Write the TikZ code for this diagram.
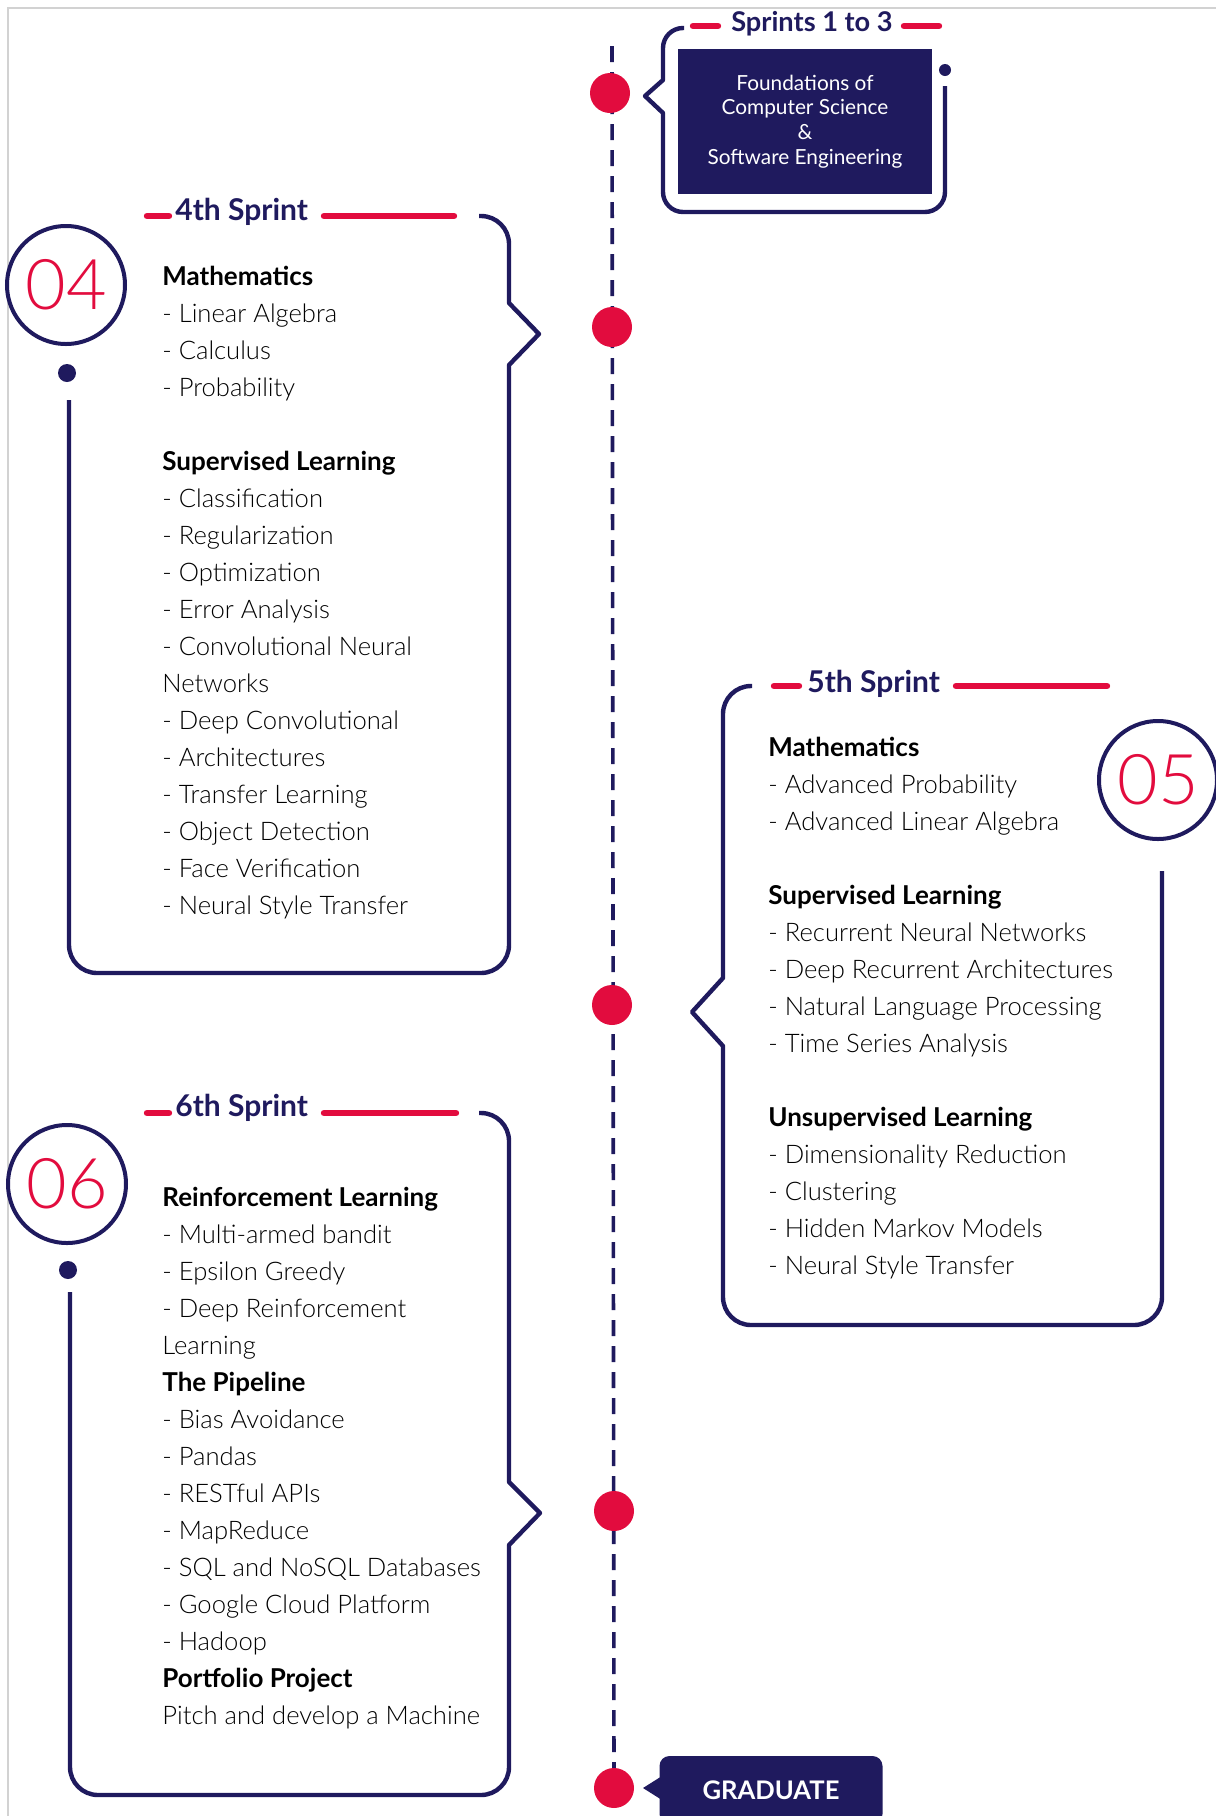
\documentclass[tikz,border=0pt]{standalone}
\usepackage{fontspec}
\setmainfont{Lato}[UprightFont={* Light},BoldFont={* Bold}]
\newfontfamily\regfont{Lato}
\usetikzlibrary{positioning}
\definecolor{navy}{RGB}{31,26,94}
\definecolor{crimson}{RGB}{226,12,62}
\newcommand\hd[1]{{\bfseries\fontsize{13}{18.5}\selectfont #1}}

\begin{document}
\begin{tikzpicture}[x=0.5pt,y=-0.5pt,
spine/.style={navy,line width=1.8pt,dash pattern=on 8pt off 5pt},
reddot/.style={circle,fill=crimson,minimum size=20pt,inner sep=0pt},
navydot/.style={circle,fill=navy,minimum size=9pt,inner sep=0pt},
bracket/.style={navy,line width=2.2pt,line join=round},
bar/.style={crimson,line width=3.2pt,line cap=round},
numring/.style={circle,draw=navy,line width=2pt,minimum size=59pt,
  inner sep=0pt,text=crimson,font=\fontsize{35}{35}\selectfont},
title/.style={text=navy,anchor=base west,inner sep=0pt,
  font=\bfseries\fontsize{15}{15}\selectfont},
listtxt/.style={anchor=north west,align=left,inner sep=0pt,text=black,
  font=\fontsize{12.8}{18.5}\selectfont},
headbox/.style={fill=navy,text=white,align=center,minimum width=127pt,
  minimum height=72.5pt,inner sep=0pt,font=\regfont\fontsize{10.4}{12.3}\selectfont},
gradbox/.style={fill=navy,text=white,rounded corners=5pt,minimum width=111.5pt,
  minimum height=34pt,inner sep=0pt,font=\bfseries\fontsize{12.8}{12.8}\selectfont}
]
\useasboundingbox (0,0) rectangle (1216,1816);
\clip (0,0) rectangle (1216,1816);
\draw[gray!35,line width=0.7pt] (8,1816) -- (8,8) -- (1216,8);

% timeline
\coordinate (top) at (612,46);
\coordinate (s1) at (610,93);
\coordinate (s2) at (612,327);
\coordinate (s3) at (612,1005);
\coordinate (s4) at (614,1511);
\coordinate (s5) at (614,1788);
\draw[spine] (top) -- (s5);
\foreach \s in {s1,s2,s3,s4,s5}
  \node[reddot] (\s dot) at (\s) {};

% sprints 1 to 3
\node[headbox] (found) at (805,121.5) {Foundations of\\Computer Science\\\&\\Software Engineering};
\draw[bracket] (684,28) [rounded corners=10pt] -- (663,28) [sharp corners] -- (663,80) -- (645,96)
  -- (663,113) [rounded corners=10pt] -- (663,212) -- (945,212) -- (945,86);
\node[navydot,minimum size=6pt] (cap1) at (945,70) {};
\node[title,anchor=base,font=\bfseries\fontsize{13.6}{13.6}\selectfont] (t13) at (812,31) {Sprints 1 to 3};
\draw[bar] (693,26) -- (718,26);
\draw[bar] (904,26) -- (939,26);

% 4th sprint
\node[title] (t4) at (175,220) {4th Sprint};
\draw[bar] (147,216) -- (169,216);
\draw[bar] (324,216) -- (454,216);
\draw[bracket] (479,216) [rounded corners=14pt] -- (509,216) [sharp corners] -- (509,303) -- (539,334)
  -- (509,365) [rounded corners=14pt] -- (509,973) -- (69,973) -- (69,400);
\node[numring] (n4) at (66,285) {04};
\node[navydot] (p4) at (67,373) {};
\node[listtxt] (l4) at (162,266) {\hd{Mathematics}\\- Linear Algebra\\- Calculus\\- Probability\\[18.5pt]
\hd{Supervised Learning}\\- Classification\\- Regularization\\- Optimization\\- Error Analysis\\
- Convolutional Neural\\Networks\\- Deep Convolutional\\- Architectures\\- Transfer Learning\\
- Object Detection\\- Face Verification\\- Neural Style Transfer};

% 5th sprint
\node[title] (t5) at (807,692) {5th Sprint};
\draw[bar] (774,686) -- (799,686);
\draw[bar] (956,686) -- (1107,686);
\draw[bracket] (1162,871) [rounded corners=14pt] -- (1162,1325) -- (723,1325) [sharp corners] -- (723,1046)
  -- (692,1012) -- (723,978) [rounded corners=14pt] -- (723,686) -- (752,686);
\node[numring] (n5) at (1158,780) {05};
\node[listtxt] (l5) at (768,737) {\hd{Mathematics}\\- Advanced Probability\\- Advanced Linear Algebra\\[18.5pt]
\hd{Supervised Learning}\\- Recurrent Neural Networks\\- Deep Recurrent Architectures\\
- Natural Language Processing\\- Time Series Analysis\\[18.5pt]
\hd{Unsupervised Learning}\\- Dimensionality Reduction\\- Clustering\\- Hidden Markov Models\\
- Neural Style Transfer};

% 6th sprint
\node[title] (t6) at (175,1116) {6th Sprint};
\draw[bar] (147,1113) -- (169,1113);
\draw[bar] (324,1113) -- (456,1113);
\draw[bracket] (479,1113) [rounded corners=14pt] -- (509,1113) [sharp corners] -- (509,1482) -- (540,1513)
  -- (509,1545) [rounded corners=14pt] -- (509,1795) -- (70,1795) -- (70,1292);
\node[numring] (n6) at (67,1184) {06};
\node[navydot] (p6) at (68,1270) {};
\node[listtxt] (l6) at (162,1187) {\hd{Reinforcement Learning}\\- Multi-armed bandit\\- Epsilon Greedy\\
- Deep Reinforcement\\Learning\\\hd{The Pipeline}\\- Bias Avoidance\\- Pandas\\- RESTful APIs\\
- MapReduce\\- SQL and NoSQL Databases\\- Google Cloud Platform\\- Hadoop\\
\hd{Portfolio Project}\\Pitch and develop a Machine};

% graduate
\node[gradbox] (grad) at (771,1790) {GRADUATE};
\fill[navy] (662,1776) -- (643,1788) -- (662,1800) -- cycle;
\end{tikzpicture}
\end{document}
